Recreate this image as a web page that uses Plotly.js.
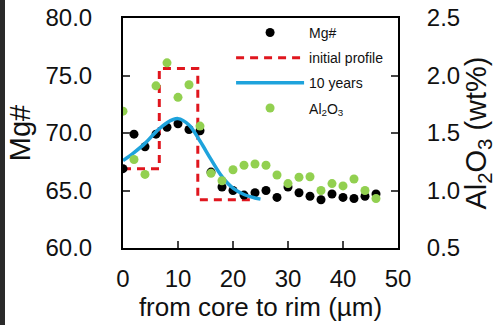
<!DOCTYPE html>
<html><head><meta charset="utf-8">
<script src="https://cdn.plot.ly/plotly-3.0.1.min.js"></script>
<style>html,body{margin:0;padding:0;background:#fff;}</style>
</head><body>
<div id="chart" style="width:496px;height:325px;"></div>
<script>
// distance from core to rim (µm)
var distance = [0,2,4,6,8,10,12,14,16,18,20,22,24,26,28,30,32,34,36,38,40,42,44,46];
var mgNumber = [66.9,69.9,68.8,69.9,70.5,70.8,70.3,70.2,66.6,65.3,65.0,64.6,64.8,65.0,64.4,65.3,64.8,64.5,64.2,64.7,64.4,64.3,64.5,64.7];
var al2o3 = [1.69,1.27,1.14,1.91,2.11,1.81,1.92,1.56,1.15,1.085,1.18,1.22,1.23,1.22,1.135,1.06,1.115,1.12,1.0,1.06,1.04,1.10,1.0,0.93];
var initialX = [0,6.6,6.6,13.6,13.6,24];
var initialMg = [66.9,66.9,75.6,75.6,64.2,64.2];
var modelX = [0,2,4,6,8,10,12,14,16,18,20,22,24,25];
var modelMg = [67.6,68.3,69.1,70.1,70.9,71.25,70.7,69.3,67.7,66.2,65.2,64.65,64.35,64.25];
var xTicks = [0,10,20,30,40,50];
var yTicks = [60,65,70,75,80];
var y2Ticks = [0.5,1.0,1.5,2.0,2.5];

var FONT = 'Liberation Sans, Arial, sans-serif';
var traces = [
  {x: initialX, y: initialMg, mode:'lines', name:'initial profile', legendrank:2, legendgroup:'b',
   line:{color:'#e0161e', width:3, dash:'8px,6px'}},
  {x: distance, y: mgNumber, mode:'markers', name:'Mg#', legendrank:1, legendgroup:'a',
   marker:{color:'#000', size:9}},
  {x: modelX, y: modelMg, mode:'lines', name:'10 years', legendrank:3, legendgroup:'c',
   line:{color:'#1ea3dc', width:3.5, shape:'spline'}},
  {x: distance, y: al2o3, mode:'markers', name:'Al<sub>2</sub>O<sub>3</sub>', legendrank:4, legendgroup:'d',
   yaxis:'y2', marker:{color:'#92d050', size:9}}
];
var layout = {
  width:496, height:325,
  margin:{l:123, r:98, t:18, b:77},
  paper_bgcolor:'#fff', plot_bgcolor:'#fff',
  font:{family:FONT, size:24, color:'#111'},
  showlegend:true,
  legend:{x:0.393, y:1.005, xanchor:'left', yanchor:'top', bgcolor:'rgba(0,0,0,0)',
          font:{size:14, color:'#111'}, tracegroupgap:4, itemwidth:68, traceorder:'grouped'},
  xaxis:{range:[0,50], tickvals:xTicks, ticktext:xTicks.map(String), ticks:'inside', ticklen:7, tickwidth:2,
         showline:true, linewidth:2, linecolor:'#000', mirror:true, showgrid:false, zeroline:false,
         title:{text:'from core to rim (µm)', standoff:3, font:{family:FONT, size:26, color:'#111'}}, ticklabelstandoff:8},
  yaxis:{range:[60,80], tickvals:yTicks, ticktext:yTicks.map(function(v){return v.toFixed(1);}), ticks:'inside', ticklen:7, tickwidth:2,
         showline:true, linewidth:2, linecolor:'#000', showgrid:false, zeroline:false,
         title:{text:'Mg#', standoff:6}, ticklabelstandoff:24},
  yaxis2:{range:[0.5,2.5], overlaying:'y', side:'right', tickvals:y2Ticks, ticktext:y2Ticks.map(function(v){return v.toFixed(1);}),
          ticks:'inside', ticklen:7, tickwidth:2, showline:true, linewidth:2, linecolor:'#000', showgrid:false, zeroline:false,
          title:{text:'Al<sub>2</sub>O<sub>3</sub> (wt%)', standoff:8}, ticklabelstandoff:22},
  shapes:[{type:'rect', xref:'paper', yref:'paper', x0:-123/275, x1:-118/275, y0:-77/230, y1:1+18/230,
           fillcolor:'#2a2a2a', line:{width:0}, layer:'above'}]
};
Plotly.newPlot('chart', traces, layout, {displayModeBar:false, staticPlot:true});
</script>
</body></html>
